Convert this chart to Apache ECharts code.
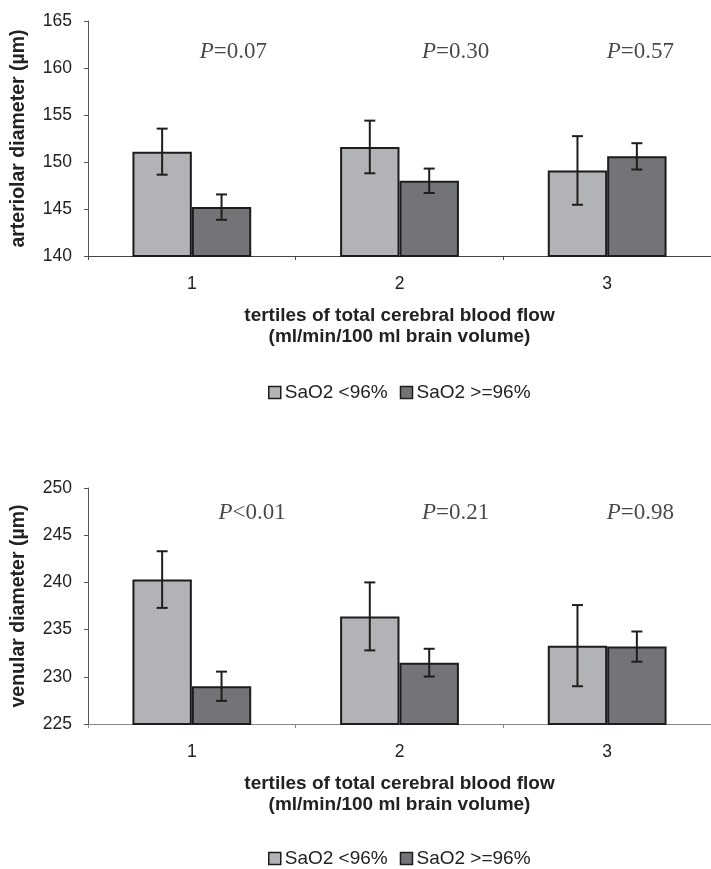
<!DOCTYPE html>
<html>
<head>
<meta charset="utf-8">
<script src="https://cdn.jsdelivr.net/npm/echarts@6/dist/echarts.min.js"></script>
<style>html,body{margin:0;padding:0;background:#fff}#c{width:711px;height:869px}</style>
</head>
<body>
<div id="c"></div>
<script>
// ---- data ----
const categories = ['1', '2', '3'];
const seriesNames = ['SaO2 <96%', 'SaO2 >=96%'];

const artLow = [151.1, 151.6, 149.1];
const artLowErr = [2.45, 2.8, 3.65];
const artHigh = [145.2, 148.0, 150.6];
const artHighErr = [1.35, 1.3, 1.4];

const venLow = [240.3, 236.4, 233.3];
const venLowErr = [3.0, 3.6, 4.3];
const venHigh = [229.0, 231.5, 233.2];
const venHighErr = [1.55, 1.47, 1.6];

const artPText = ['=0.07', '=0.30', '=0.57'];
const artPX = [0.2, 1.27, 2.16];
const artPY = 161.7;
const venPText = ['<0.01', '=0.21', '=0.98'];
const venPX = [0.29, 1.27, 2.16];
const venPY = 247.4;

const artTicks = {min: 140, max: 165, interval: 5};
const venTicks = {min: 225, max: 250, interval: 5};

const xTitle = 'tertiles of total cerebral blood flow\n(ml/min/100 ml brain volume)';
const artYTitle = 'arteriolar diameter (µm)';
const venYTitle = 'venular diameter (µm)';

// ---- styles ----
const SANS = 'Liberation Sans, Arial, sans-serif';
const SERIF = 'Liberation Serif, Times New Roman, serif';
const lightColor = '#b2b3b6';
const darkColor = '#737478';
const edge = '#1c1c1c';
const barRatio = 0.286; // bar width / category width

function errSeries(name, xAxisIndex, yAxisIndex, vals, errs, side) {
  return {
    type: 'custom',
    name: name + ' err',
    xAxisIndex, yAxisIndex,
    z: 5,
    data: vals.map((v, i) => [i, v, errs[i]]),
    encode: {x: 0, y: 1},
    renderItem: function (params, api) {
      const idx = api.value(0), v = api.value(1), e = api.value(2);
      const band = api.size([1, 0])[0];
      const off = side * band * barRatio / 2;
      const top = api.coord([idx, v + e]);
      const bot = api.coord([idx, v - e]);
      const x = top[0] + off;
      const cap = 5.5;
      const st = {stroke: '#1e1e1e', lineWidth: 2};
      return {
        type: 'group',
        children: [
          {type: 'line', shape: {x1: x, y1: top[1], x2: x, y2: bot[1]}, style: st},
          {type: 'line', shape: {x1: x - cap, y1: top[1], x2: x + cap, y2: top[1]}, style: st},
          {type: 'line', shape: {x1: x - cap, y1: bot[1], x2: x + cap, y2: bot[1]}, style: st}
        ]
      };
    }
  };
}

function barSeries(name, xAxisIndex, yAxisIndex, vals, color) {
  return {
    type: 'bar', name, xAxisIndex, yAxisIndex,
    data: vals,
    barGap: '0%',
    barCategoryGap: '42.8%',
    itemStyle: {color, borderColor: edge, borderWidth: 2},
    emphasis: {disabled: true}
  };
}

function pSeries(xAxisIndex, yAxisIndex, xs, y, texts) {
  return {
    type: 'scatter', xAxisIndex, yAxisIndex,
    symbolSize: 0, silent: true,
    data: xs.map((x, i) => ({value: [x, y], t: texts[i]})),
    label: {
      show: true, position: 'inside',
      formatter: p => '{i|P}{n|' + p.data.t + '}',
      rich: {
        i: {fontFamily: SERIF, fontStyle: 'italic', fontSize: 23, color: '#1a1a1a'},
        n: {fontFamily: SERIF, fontSize: 23, color: '#1a1a1a'}
      }
    }
  };
}

function catAxis(gridIndex, lineColor) {
  return {
    type: 'category', gridIndex, data: categories,
    axisLine: {lineStyle: {color: lineColor, width: 1}},
    axisTick: {show: true, length: 4, lineStyle: {color: lineColor}},
    axisLabel: {fontFamily: SANS, fontSize: 17.5, color: '#222', margin: 19},
    name: xTitle, nameLocation: 'middle', nameGap: 49,
    nameTextStyle: {fontFamily: SANS, fontSize: 19, fontWeight: 'bold', color: '#222', lineHeight: 21}
  };
}
function hiddenX(gridIndex) {
  return {type: 'value', gridIndex, min: -0.5, max: 2.5, show: false};
}
function valAxis(gridIndex, t, title) {
  return {
    type: 'value', gridIndex, min: t.min, max: t.max, interval: t.interval,
    axisLine: {show: true, onZero: false, lineStyle: {color: '#555'}},
    axisTick: {show: true, length: 4, lineStyle: {color: '#555'}},
    splitLine: {show: false},
    axisLabel: {fontFamily: SANS, fontSize: 17.5, color: '#222', margin: 16},
    name: title, nameLocation: 'middle', nameRotate: 90, nameGap: 59,
    nameTextStyle: {fontFamily: SANS, fontSize: 19.5, fontWeight: 'bold', color: '#222'}
  };
}
function legend(top) {
  return {
    data: seriesNames, left: 263, top, icon: 'rect',
    itemWidth: 12, itemHeight: 12, itemGap: 12,
    itemStyle: {borderColor: edge, borderWidth: 1.5},
    textStyle: {fontFamily: SANS, fontSize: 19, color: '#222', padding: [0, 0, 0, -1]},
    selectedMode: false
  };
}

const chart = echarts.init(document.getElementById('c'), null, {renderer: 'canvas'});
chart.setOption({
  animation: false,
  backgroundColor: '#fff',
  grid: [
    {left: 88, top: 21, width: 623, height: 235},
    {left: 88, top: 488, width: 623, height: 236}
  ],
  xAxis: [catAxis(0, '#444'), catAxis(1, '#888'), hiddenX(0), hiddenX(1)],
  yAxis: [valAxis(0, artTicks, artYTitle), valAxis(1, venTicks, venYTitle)],
  legend: [legend(378), legend(844)],
  series: [
    barSeries(seriesNames[0], 0, 0, artLow, lightColor),
    barSeries(seriesNames[1], 0, 0, artHigh, darkColor),
    errSeries(seriesNames[0], 0, 0, artLow, artLowErr, -1),
    errSeries(seriesNames[1], 0, 0, artHigh, artHighErr, 1),
    barSeries(seriesNames[0], 1, 1, venLow, lightColor),
    barSeries(seriesNames[1], 1, 1, venHigh, darkColor),
    errSeries(seriesNames[0], 1, 1, venLow, venLowErr, -1),
    errSeries(seriesNames[1], 1, 1, venHigh, venHighErr, 1),
    pSeries(2, 0, artPX, artPY, artPText),
    pSeries(3, 1, venPX, venPY, venPText)
  ]
});
</script>
</body>
</html>
